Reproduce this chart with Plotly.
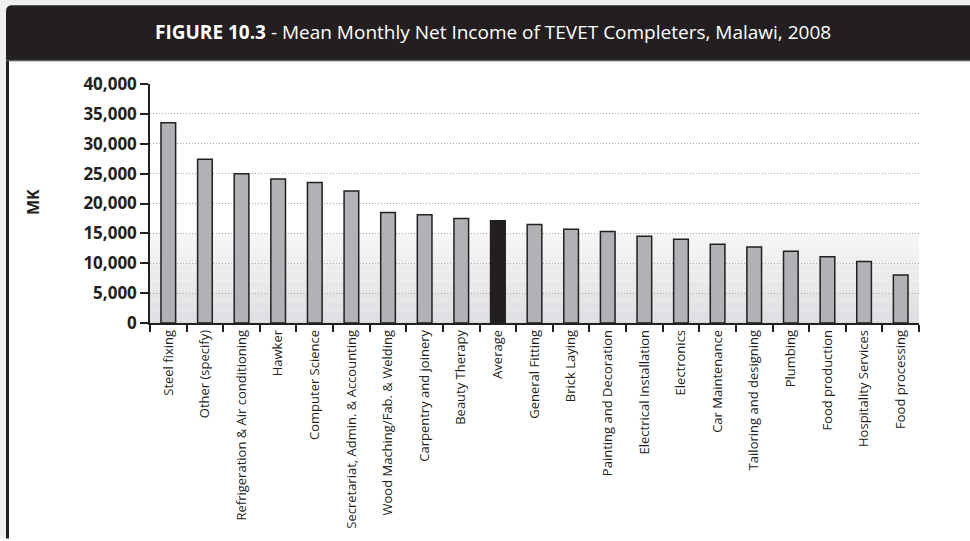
import plotly.graph_objects as go

# Mean monthly net income (MK) by trade
trades = [
    "Steel fixing", "Other (specify)", "Refrigeration & Air conditioning", "Hawker",
    "Computer Science", "Secretariat, Admin. & Accounting", "Wood Maching/Fab. & Welding",
    "Carpentry and joinery", "Beauty Therapy", "Average", "General Fitting", "Brick Laying",
    "Painting and Decoration", "Electrical Installation", "Electronics", "Car Maintenance",
    "Tailoring and designing", "Plumbing", "Food production", "Hospitality Services",
    "Food processing",
]
income = [
    33500, 27400, 25000, 24100, 23500, 22100, 18500, 18100, 17500, 17100, 16500, 15700,
    15300, 14500, 14000, 13200, 12700, 12000, 11100, 10300, 8050,
]
y_ticks = [0, 5000, 10000, 15000, 20000, 25000, 30000, 35000, 40000]

title_bold = "FIGURE 10.3"
title_rest = " - Mean Monthly Net Income of TEVET Completers, Malawi, 2008"

W, H = 970, 541
ML, MR, MT, MB = 150, 51, 84, 214
PW, PH = W - ML - MR, H - MT - MB

DARK = "#231f20"
BAR = "#b1b2b5"
EDGE = "#efefef"


def xp(px):
    return (px - ML) / PW


def yp(py):
    return (H - MB - py) / PH


colors = [DARK if t == "Average" else BAR for t in trades]

fig = go.Figure(
    go.Bar(
        x=trades,
        y=income,
        marker=dict(color=colors, line=dict(color=DARK, width=1.5)),
        width=0.4,
    )
)

shapes = []
# light margin strips above and to the left of the panel
shapes.append(dict(type="rect", xref="paper", yref="paper",
                   x0=xp(-5), x1=xp(W + 5), y0=yp(4), y1=yp(-5),
                   fillcolor=EDGE, line=dict(width=0), layer="below"))
shapes.append(dict(type="rect", xref="paper", yref="paper",
                   x0=xp(-5), x1=xp(6), y0=yp(H + 5), y1=yp(-5),
                   fillcolor=EDGE, line=dict(width=0), layer="below"))
# dark left rule of the panel
shapes.append(dict(type="line", xref="paper", yref="paper",
                   x0=xp(7.5), x1=xp(7.5), y0=yp(H + 5), y1=yp(12),
                   line=dict(color=DARK, width=3), layer="below"))
# title band with a rounded top-left corner
r = 6
path = (f"M {xp(6)},{yp(60)} L {xp(6)},{yp(4 + r)} "
        f"Q {xp(6)},{yp(4)} {xp(6 + r)},{yp(4)} "
        f"L {xp(W + 5)},{yp(4)} L {xp(W + 5)},{yp(60)} Z")
shapes.append(dict(type="path", xref="paper", yref="paper", path=path,
                   fillcolor=DARK, line=dict(width=0), layer="below"))
shapes.append(dict(type="line", xref="paper", yref="paper",
                   x0=xp(6), x1=xp(W + 5), y0=yp(60), y1=yp(60),
                   line=dict(color="#555555", width=1.5), layer="below"))

# soft vertical shading in the lower part of the plot area
top_val = 15000
n = 40
c_top = (246, 246, 247)
c_bot = (220, 221, 224)
for i in range(n):
    f = i / (n - 1)
    c = tuple(round(c_bot[k] + (c_top[k] - c_bot[k]) * f) for k in range(3))
    shapes.append(dict(type="rect", xref="x domain", yref="y",
                       x0=0, x1=1, y0=top_val * i / n, y1=top_val * (i + 1) / n,
                       fillcolor=f"rgb{c}", line=dict(width=0), layer="below"))

fig.update_layout(
    width=W, height=H,
    margin=dict(l=ML, r=MR, t=MT, b=MB, pad=0),
    paper_bgcolor="white",
    plot_bgcolor="rgba(0,0,0,0)",
    showlegend=False,
    shapes=shapes,
    bargap=0.6,
    annotations=[
        dict(text=f"<b>{title_bold}</b>{title_rest}", xref="paper", yref="paper",
             x=xp(493), y=yp(31), xanchor="center", yanchor="middle", showarrow=False,
             font=dict(family="Open Sans", size=19, color="white")),
        dict(text="<b>MK</b>", xref="paper", yref="paper", x=xp(33), y=yp(204),
             xanchor="center", yanchor="middle", textangle=-90, showarrow=False,
             font=dict(family="Open Sans", size=16, color=DARK)),
    ],
)

fig.update_xaxes(
    type="category",
    tickson="boundaries",
    ticks="outside", ticklen=7, tickwidth=1.5, tickcolor=DARK,
    showline=True, linecolor=DARK, linewidth=1.5,
    showgrid=False,
    tickangle=-90,
    tickfont=dict(family="Open Sans", size=13, color=DARK),
)
fig.update_yaxes(
    range=[0, 40000],
    tickvals=y_ticks,
    tickformat=",",
    ticks="outside", ticklen=8, tickwidth=1.5, tickcolor=DARK,
    showline=True, linecolor=DARK, linewidth=1.5,
    showgrid=True, gridcolor="#a8a8a8", gridwidth=1, griddash="1px,2px",
    zeroline=False,
    tickfont=dict(family="Open Sans", size=17, color=DARK, weight="bold"),
)

fig.write_html("out.html")
